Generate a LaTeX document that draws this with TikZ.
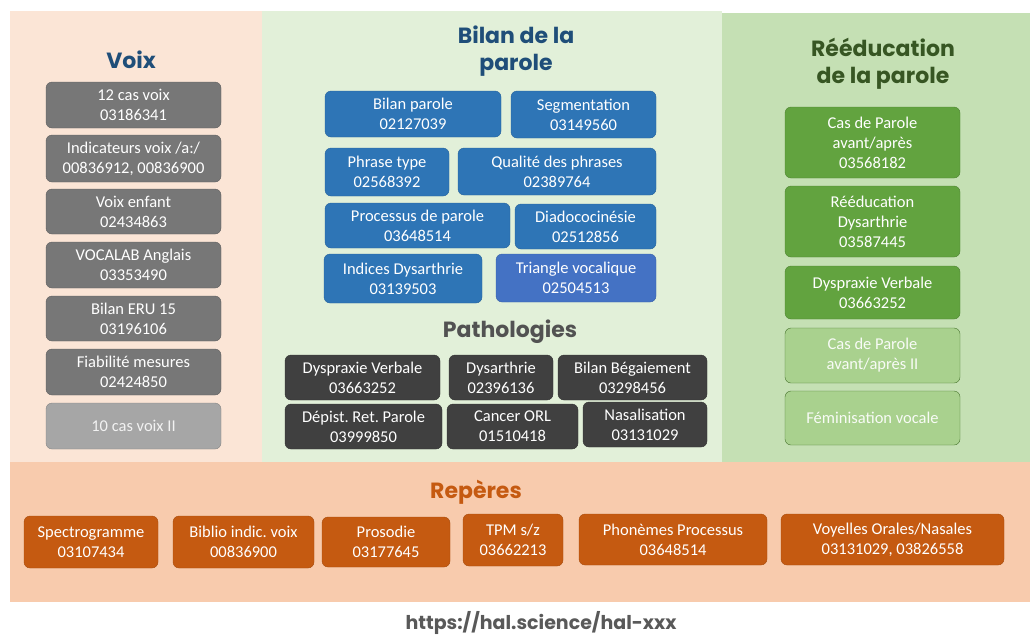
\documentclass[tikz,border=0pt]{standalone}
\usepackage{fontspec}
\setmainfont{Carlito}
\newfontfamily\headfont{Poppins}
\usepackage{tikz}
\usetikzlibrary{positioning,backgrounds}
\tikzset{every node/.append style={align=center}}
\frenchspacing
\definecolor{voixpanel}{HTML}{FBE5D6}
\definecolor{bilanpanel}{HTML}{E2F0D9}
\definecolor{reedpanel}{HTML}{C5E0B4}
\definecolor{reperespanel}{HTML}{F8CBAD}
\definecolor{voixgray}{HTML}{777777}
\definecolor{voixlight}{HTML}{A6A6A6}
\definecolor{bilanblue}{HTML}{2E75B6}
\definecolor{trianglebl}{HTML}{4472C4}
\definecolor{pathodark}{HTML}{404040}
\definecolor{reedgreen}{HTML}{62A33F}
\definecolor{reedlight}{HTML}{A9D18E}
\definecolor{reperesor}{HTML}{C55A11}
\definecolor{titleblue}{HTML}{1F4E79}
\definecolor{titlegreen}{HTML}{375623}
\definecolor{titlegray}{HTML}{525252}
\definecolor{urlgray}{HTML}{595959}

\begin{document}
\begin{tikzpicture}[
    x=1pt, y=-1pt,
    card/.style={rounded corners=6pt, inner sep=1pt, text=white, font=\fontsize{16.5}{20}\selectfont},
    voixcard/.style={card, fill=voixgray, draw=voixgray!80!black, minimum width=175pt},
    voixfaded/.style={card, fill=voixlight, draw=voixlight!80!black, text=white!95!black, minimum width=175pt},
    bilancard/.style={card, fill=bilanblue, draw=bilanblue!85!black},
    pathocard/.style={card, fill=pathodark, draw=pathodark!80!black},
    reedcard/.style={card, fill=reedgreen, draw=reedgreen!80!black, minimum width=175pt},
    reedfaded/.style={card, fill=reedlight, draw=reedgreen!70!black, text=white!92!reedlight, minimum width=175pt},
    reperescard/.style={card, fill=reperesor, draw=reperesor!85!black},
    heading/.style={font=\headfont\bfseries\fontsize{22}{27}\selectfont, inner sep=0pt}
]
    % Canvas and panels
    \fill[white] (0,0) rectangle (1030,635);
    \fill[voixpanel] (10,11) rectangle (262,462);
    \fill[bilanpanel] (262,11) rectangle (722,462);
    \fill[reedpanel] (722,13) rectangle (1030,462);
    \fill[reperespanel] (10,462) rectangle (1030,602);

    % Voix
    \node[heading, text=titleblue] (voixtitle) at (131,60) {Voix};
    \node[voixcard, minimum height=46pt] (voix1) at (133.5,105) {12 cas voix\\03186341};
    \node[voixcard, minimum height=47pt] (voix2) at (133.5,158.5) {Indicateurs voix /a:/\\00836912, 00836900};
    \node[voixcard, minimum height=45pt] (voix3) at (133.5,211.5) {Voix enfant\\02434863};
    \node[voixcard, minimum height=46pt] (voix4) at (133.5,265) {VOCALAB Anglais\\03353490};
    \node[voixcard, minimum height=45pt] (voix5) at (133.5,318.5) {Bilan ERU 15\\03196106};
    \node[voixcard, minimum height=46pt] (voix6) at (133.5,372) {Fiabilité mesures\\02424850};
    \node[voixfaded, minimum height=46pt] (voix7) at (133.5,426) {10 cas voix II};

    % Bilan de la parole
    \node[heading, text=titleblue] (bilantitle) at (516,51.5) {Bilan de la\\parole};
    \node[bilancard, minimum width=176pt, minimum height=46pt] (bilanparole) at (413,114) {Bilan parole\\02127039};
    \node[bilancard, minimum width=145pt, minimum height=47pt] (segmentation) at (583.5,114.5) {Segmentation\\03149560};
    \node[bilancard, minimum width=124pt, minimum height=48pt] (phrasetype) at (387,172) {Phrase type\\02568392};
    \node[bilancard, minimum width=198pt, minimum height=47pt] (qualite) at (557,171.5) {Qualité des phrases\\02389764};
    \node[bilancard, minimum width=185pt, minimum height=45pt] (processus) at (417.5,225.5) {Processus de parole\\03648514};
    \node[bilancard, minimum width=141pt, minimum height=45pt] (diado) at (585.5,226.5) {Diadococinésie\\02512856};
    \node[bilancard, minimum width=158pt, minimum height=49pt] (indices) at (403,278.5) {Indices Dysarthrie\\03139503};
    \node[bilancard, fill=trianglebl, draw=trianglebl!85!black, minimum width=160pt, minimum height=48pt] (triangle) at (576,278) {Triangle vocalique\\02504513};

    % Pathologies
    \node[heading, text=titlegray] (pathotitle) at (510,332) {Pathologies};
    \node[pathocard, minimum width=155pt, minimum height=45pt] (dyspraxie) at (362.5,377.5) {Dyspraxie Verbale\\03663252};
    \node[pathocard, minimum width=104pt, minimum height=45pt] (dysarthrie) at (501,377.5) {Dysarthrie\\02396136};
    \node[pathocard, minimum width=149pt, minimum height=45pt] (begaiement) at (632.5,377.5) {Bilan Bégaiement\\03298456};
    \node[pathocard, minimum width=157pt, minimum height=45pt] (depist) at (363.5,426.5) {Dépist. Ret. Parole\\03999850};
    \node[pathocard, minimum width=131pt, minimum height=45pt] (cancer) at (512.5,426.5) {Cancer ORL\\01510418};
    \node[pathocard, minimum width=124pt, minimum height=45pt] (nasal) at (645,424.5) {Nasalisation\\03131029};

    % Rééducation de la parole
    \node[heading, text=titlegreen] (reedtitle) at (883,64) {Rééducation\\de la parole};
    \node[reedcard, minimum height=71pt] (reed1) at (872.5,142.5) {Cas de Parole\\avant/après\\03568182};
    \node[reedcard, minimum height=71pt] (reed2) at (872.5,221.5) {Rééducation\\Dysarthrie\\03587445};
    \node[reedcard, minimum height=53pt] (reed3) at (872.5,292.5) {Dyspraxie Verbale\\03663252};
    \node[reedfaded, minimum height=55pt] (reed4) at (872.5,355.5) {Cas de Parole\\avant/après II};
    \node[reedfaded, minimum height=54pt] (reed5) at (872.5,418) {Féminisation vocale};

    % Repères
    \node[heading, text=reperesor] (reperestitle) at (476,492) {Repères};
    \node[reperescard, minimum width=134pt, minimum height=52pt] (spectro) at (91,542) {Spectrogramme\\03107434};
    \node[reperescard, minimum width=141pt, minimum height=52pt] (biblio) at (243.5,542) {Biblio indic. voix\\00836900};
    \node[reperescard, minimum width=128pt, minimum height=50pt] (prosodie) at (386,542) {Prosodie\\03177645};
    \node[reperescard, minimum width=100pt, minimum height=52pt] (tpm) at (513,540) {TPM s/z\\03662213};
    \node[reperescard, minimum width=188pt, minimum height=51pt] (phonemes) at (673,539.5) {Phonèmes Processus\\03648514};
    \node[reperescard, minimum width=223pt, minimum height=51pt] (voyelles) at (892.5,539.5) {Voyelles Orales/Nasales\\03131029, 03826558};

    % Source
    \node[heading, text=urlgray, font=\headfont\bfseries\fontsize{19}{22}\selectfont] (source) at (541,623) {https://hal.science/hal-xxx};
\end{tikzpicture}
\end{document}
